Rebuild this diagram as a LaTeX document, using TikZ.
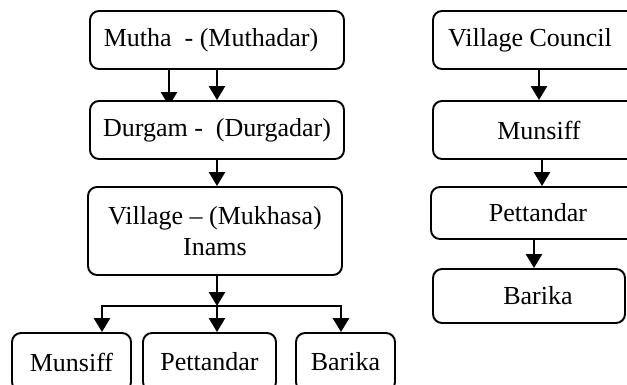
\documentclass[tikz,border=0pt]{standalone}
\usepackage{fontspec}
\setmainfont{Liberation Serif}
\usetikzlibrary{arrows.meta,backgrounds}
\tikzset{
  box/.style={draw, line width=1.9pt, rounded corners=9pt, fill=white, inner sep=0pt,
    font=\fontsize{26}{31}\selectfont, align=center},
  arr/.style={line width=2.6pt, -{Triangle[length=14pt,width=16pt]}},
  barr/.style={line width=2.8pt, {Triangle[length=14pt,width=16pt]}-{Triangle[length=14pt,width=16pt]}}
}
\begin{document}
\begin{tikzpicture}[x=1pt,y=-1pt]
\useasboundingbox (0,0) rectangle (627,385);
\clip (0,0) rectangle (627,385);
% left column
\node[box, minimum width=254pt, minimum height=58pt] (mutha) at (217,40) {Mutha\ \ - (Muthadar)\hspace*{12pt}};
\node[box, minimum width=254pt, minimum height=58pt] (durgam) at (217,130) {Durgam -\ \ (Durgadar)};
\node[box, minimum width=254pt, minimum height=88pt] (village) at (215,231) {Village -- (Mukhasa)\\Inams};
\node[box, minimum width=119pt, minimum height=58pt] (munL) at (71.5,362) {Munsiff};
\node[box, minimum width=133pt, minimum height=58pt] (petL) at (209.5,362) {Pettandar};
\node[box, minimum width=99pt, minimum height=58pt] (barL) at (345.5,362) {Barika};
% right column
\node[box, minimum width=212pt, minimum height=58pt] (vc) at (539,40) {Village Council\hspace*{18pt}};
\node[box, minimum width=212pt, minimum height=58pt] (munR) at (539,130) {Munsiff};
\node[box, minimum width=214pt, minimum height=52pt] (petR) at (538,213) {Pettandar};
\node[box, minimum width=192pt, minimum height=54pt] (barR) at (529,296) {\hspace*{18pt}Barika};
\coordinate (jn) at (217,306);
\coordinate (bl) at (102,306);
\coordinate (br) at (341,306);
\begin{scope}[on background layer]
  \draw[arr] ([xshift=-48pt]mutha.south) -- ([xshift=-48pt,yshift=-6pt]mutha.south |- durgam.north);
  \draw[arr] (mutha.south) -- (durgam.north);
  \draw[arr] (durgam.south) -- (durgam.south |- village.north);
  \draw[arr] (durgam.south |- village.south) -- (jn);
  \draw[barr] (bl |- munL.north) -- (bl) -- (br) -- (br |- barL.north);
  \draw[arr] (jn) -- (jn |- petL.north);
  \draw[arr] (vc.south) -- (munR.north);
  \draw[arr] ([xshift=3pt]munR.south) -- ([xshift=3pt]munR.south |- petR.north);
  \draw[arr] ([xshift=-4pt]petR.south) -- ([xshift=-4pt]petR.south |- barR.north);
\end{scope}
\end{tikzpicture}
\end{document}
